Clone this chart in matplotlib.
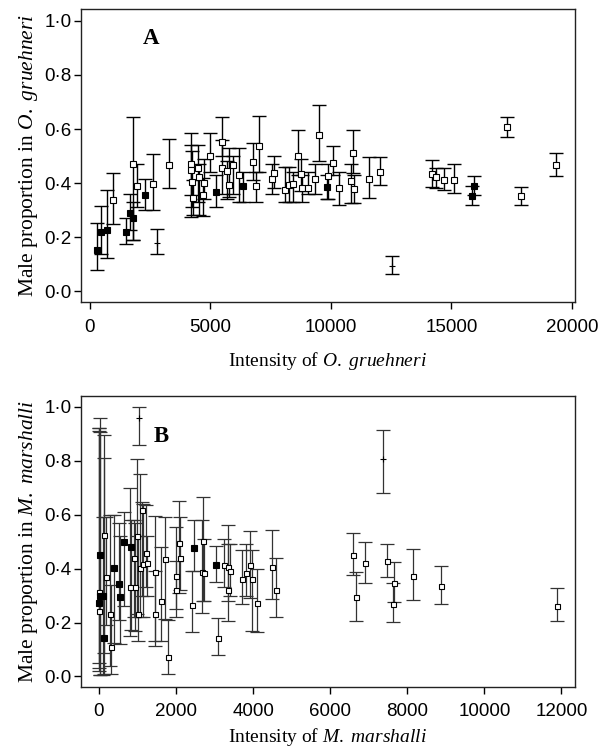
import numpy as np
import matplotlib.pyplot as plt

plt.rcParams['font.family'] = ['Liberation Serif', 'DejaVu Serif']
plt.rcParams['mathtext.fontset'] = 'custom'
plt.rcParams['mathtext.rm'] = 'Liberation Serif'
plt.rcParams['mathtext.it'] = 'Liberation Serif:italic'

# ---- Panel A : O. gruehneri ----
# open squares: x, proportion, lower, upper
a_open_x = [983, 1813, 1979, 2643, 3278, 4219, 4190, 4230, 4288, 4495, 4520, 4744, 4703,
            4992, 5490, 5490, 5712, 5768, 5962, 6183, 6777, 6915, 7025, 7552, 7635, 8091,
            8271, 8437, 8631, 8769, 8810, 9059, 9349, 9502, 9876, 10112, 10360, 10941,
            10830, 10983, 11577, 12046, 14203, 14369, 14701, 15116, 17315, 17884, 19349]
a_open_y = [0.337, 0.470, 0.389, 0.397, 0.468, 0.472, 0.448, 0.404, 0.344, 0.457, 0.423, 0.400, 0.356,
            0.499, 0.553, 0.457, 0.446, 0.393, 0.468, 0.430, 0.479, 0.389, 0.538, 0.416, 0.438, 0.375,
            0.391, 0.395, 0.499, 0.434, 0.383, 0.383, 0.415, 0.579, 0.426, 0.475, 0.380, 0.512,
            0.407, 0.379, 0.414, 0.442, 0.433, 0.421, 0.412, 0.411, 0.607, 0.352, 0.468]
a_open_lo = [0.248, 0.189, 0.312, 0.300, 0.383, 0.356, 0.275, 0.310, 0.280, 0.330, 0.280, 0.340, 0.278,
             0.440, 0.500, 0.360, 0.340, 0.350, 0.360, 0.330, 0.410, 0.330, 0.440, 0.360, 0.380, 0.330,
             0.330, 0.330, 0.430, 0.370, 0.330, 0.360, 0.360, 0.480, 0.340, 0.430, 0.320, 0.437,
             0.325, 0.325, 0.343, 0.393, 0.384, 0.380, 0.374, 0.362, 0.570, 0.319, 0.426]
a_open_hi = [0.438, 0.646, 0.470, 0.506, 0.562, 0.586, 0.540, 0.520, 0.410, 0.540, 0.470, 0.490, 0.420,
             0.584, 0.643, 0.560, 0.480, 0.530, 0.500, 0.530, 0.550, 0.440, 0.648, 0.470, 0.500, 0.460,
             0.460, 0.440, 0.596, 0.490, 0.430, 0.440, 0.470, 0.690, 0.470, 0.538, 0.440, 0.595,
             0.471, 0.430, 0.495, 0.495, 0.484, 0.457, 0.455, 0.469, 0.646, 0.384, 0.512]

a_fill_x = [320, 485, 733, 1494, 1689, 1813, 2311, 5257, 6376, 9848, 15947, 15838]
a_fill_y = [0.154, 0.220, 0.228, 0.220, 0.290, 0.272, 0.356, 0.367, 0.390, 0.384, 0.390, 0.353]
a_fill_lo = [0.078, 0.137, 0.123, 0.174, 0.225, 0.189, 0.300, 0.310, 0.330, 0.340, 0.355, 0.319]
a_fill_hi = [0.253, 0.316, 0.374, 0.270, 0.359, 0.330, 0.415, 0.430, 0.440, 0.430, 0.426, 0.390]

a_plus_x = [2808, 12545]
a_plus_y = [0.180, 0.093]
a_plus_lo = [0.136, 0.063]
a_plus_hi = [0.231, 0.130]

# ---- Panel B : M. marshalli ----
b_open_x = [0, 0, 121, 173, 294, 311, 796, 900, 925, 986, 1012, 1071, 1115, 1141, 1228, 1254,
            1445, 1452, 1617, 1712, 1799, 1997, 1997, 2075, 2093, 2404, 2690, 2680, 2724, 3095,
            3234, 3338, 3355, 3390, 3701, 3805, 3909, 3977, 4099, 4488, 4583, 6598, 6667, 6909,
            7462, 7652, 7627, 8137, 8864, 11873]
b_open_y = [0.315, 0.241, 0.525, 0.369, 0.232, 0.111, 0.331, 0.438, 0.330, 0.519, 0.231, 0.404, 0.617,
            0.416, 0.459, 0.420, 0.389, 0.230, 0.279, 0.435, 0.074, 0.373, 0.321, 0.494, 0.441, 0.266,
            0.504, 0.389, 0.385, 0.141, 0.414, 0.407, 0.321, 0.391, 0.361, 0.385, 0.414, 0.363, 0.274,
            0.407, 0.319, 0.452, 0.293, 0.420, 0.430, 0.348, 0.269, 0.373, 0.337, 0.263]
b_open_lo = [0.030, 0.020, 0.087, 0.190, 0.040, 0.010, 0.150, 0.220, 0.170, 0.230, 0.130, 0.220, 0.300,
             0.220, 0.330, 0.300, 0.114, 0.130, 0.130, 0.212, 0.009, 0.220, 0.250, 0.310, 0.320, 0.164,
             0.280, 0.237, 0.280, 0.080, 0.330, 0.280, 0.204, 0.300, 0.270, 0.300, 0.290, 0.170, 0.164,
             0.287, 0.221, 0.377, 0.207, 0.346, 0.370, 0.278, 0.201, 0.284, 0.270, 0.204]
b_open_hi = [0.920, 0.910, 0.810, 0.590, 0.600, 0.340, 0.698, 0.580, 0.570, 0.805, 0.520, 0.750, 0.648,
             0.640, 0.636, 0.520, 0.596, 0.390, 0.481, 0.590, 0.210, 0.556, 0.430, 0.651, 0.590, 0.390,
             0.664, 0.580, 0.510, 0.216, 0.510, 0.560, 0.490, 0.490, 0.470, 0.490, 0.540, 0.470, 0.400,
             0.542, 0.438, 0.533, 0.389, 0.500, 0.491, 0.424, 0.348, 0.474, 0.411, 0.328]

b_fill_x = [26, 0, 26, 112, 121, 381, 519, 536, 640, 830, 2456, 3044]
b_fill_y = [0.451, 0.272, 0.299, 0.299, 0.141, 0.403, 0.342, 0.296, 0.500, 0.481, 0.478, 0.414]
b_fill_lo = [0.006, 0.050, 0.005, 0.005, 0.010, 0.124, 0.210, 0.120, 0.260, 0.173, 0.390, 0.350]
b_fill_hi = [0.957, 0.920, 0.905, 0.590, 0.895, 0.600, 0.570, 0.520, 0.610, 0.580, 0.580, 0.484]

b_plus_x = [1029, 7358]
b_plus_y = [0.957, 0.805]
b_plus_lo = [0.858, 0.682]
b_plus_hi = [1.000, 0.914]


def draw(ax, x, y, lo, hi, marker, face, ms, col, lw):
    x = np.array(x); y = np.array(y)
    err = [y - np.array(lo), np.array(hi) - y]
    ax.errorbar(x, y, yerr=err, fmt='none', ecolor=col, elinewidth=lw,
                capsize=5, capthick=lw, zorder=2)
    ax.plot(x, y, linestyle='none', marker=marker, ms=ms, mfc=face,
            mec='black', mew=0.8, zorder=3)


fig = plt.figure(figsize=(6.02, 7.53), dpi=100)
axA = fig.add_axes([0.134, 0.599, 0.821, 0.389])
axB = fig.add_axes([0.134, 0.088, 0.821, 0.3865])

draw(axA, a_open_x, a_open_y, a_open_lo, a_open_hi, 's', 'white', 4.2, 'black', 1.0)
draw(axA, a_fill_x, a_fill_y, a_fill_lo, a_fill_hi, 's', 'black', 4.5, 'black', 1.0)
draw(axA, a_plus_x, a_plus_y, a_plus_lo, a_plus_hi, '+', 'none', 5, 'black', 1.0)

draw(axB, b_open_x, b_open_y, b_open_lo, b_open_hi, 's', 'white', 3.6, '#333333', 0.9)
draw(axB, b_fill_x, b_fill_y, b_fill_lo, b_fill_hi, 's', 'black', 4.5, '#333333', 0.9)
draw(axB, b_plus_x, b_plus_y, b_plus_lo, b_plus_hi, '+', 'none', 5, '#333333', 0.9)

yt = [0, 0.2, 0.4, 0.6, 0.8, 1.0]
ytl = ['0·0', '0·2', '0·4', '0·6', '0·8', '1·0']
tfs = 13.5

axA.set_xlim(-373, 20125)
axA.set_ylim(-0.04, 1.044)
axA.set_xticks([0, 5000, 10000, 15000, 20000])
axA.set_xlabel(r'Intensity of $\mathit{O.\ gruehneri}$', fontsize=14, labelpad=10)
axA.set_ylabel(r'Male proportion in $\mathit{O.\ gruehneri}$', fontsize=15.5, labelpad=3)
axA.text(0.125, 0.898, 'A', transform=axA.transAxes, fontsize=16.5, fontweight='bold',
         ha='left', va='center')

axB.set_xlim(-475, 12348)
axB.set_ylim(-0.038, 1.041)
axB.set_xticks([0, 2000, 4000, 6000, 8000, 10000, 12000])
axB.set_xlabel(r'Intensity of $\mathit{M.\ marshalli}$', fontsize=14, labelpad=4)
axB.set_ylabel(r'Male proportion in $\mathit{M.\ marshalli}$', fontsize=15.5, labelpad=3)
axB.text(0.148, 0.859, 'B', transform=axB.transAxes, fontsize=16.5, fontweight='bold',
         ha='left', va='center')

for ax in (axA, axB):
    ax.set_yticks(yt)
    ax.set_yticklabels(ytl)
    ax.tick_params(direction='out', length=5, width=1, labelsize=tfs)
    ax.tick_params(axis='x', pad=7)
    ax.tick_params(axis='y', pad=1.5)
    for lab in ax.get_xticklabels() + ax.get_yticklabels():
        lab.set_family(['Liberation Sans', 'DejaVu Sans'])
    for s in ax.spines.values():
        s.set_linewidth(1.0)
        s.set_color('#222222')

fig.savefig('out.png', dpi=100)
